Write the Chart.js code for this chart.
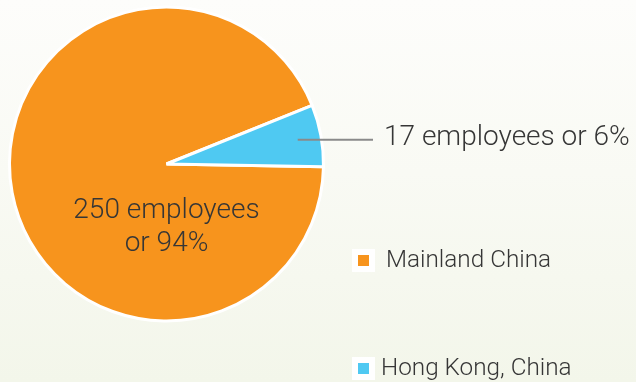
<!DOCTYPE html>
<html>
<head>
<meta charset="utf-8">
<script src="https://cdn.jsdelivr.net/npm/chart.js@4.4.0/dist/chart.umd.min.js"></script>
<style>
  html, body { margin: 0; padding: 0; }
  body {
    width: 636px; height: 382px; overflow: hidden;
    background: linear-gradient(to bottom, #fdfdfb 0%, #f9faf4 45%, #f3f6ea 100%);
  }
  canvas { display: block; }
</style>
</head>
<body>
<canvas id="staffChart" width="636" height="382"></canvas>
<script>
/* Data */
const regions = ['Mainland China', 'Hong Kong, China'];
const headcount = [250, 17];
const sliceLabels = [['250 employees', 'or 94%'], ['17 employees or 6%']];
const sliceColors = ['#f7941d', '#4fc9f2'];

const textFont = '300 28px Roboto, "DejaVu Sans", sans-serif';
const textColor = '#363636';

// Labels inside / beside the slices, plus the leader line for the small slice
const sliceText = {
    id: 'sliceText',
    afterDatasetsDraw(chart) {
        const c = chart.ctx;
        const arcs = chart.getDatasetMeta(0).data;
        c.save();
        c.font = textFont;
        c.fillStyle = textColor;

        // big slice: centred text below the middle
        const big = arcs[0];
        c.textAlign = 'center';
        c.textBaseline = 'alphabetic';
        c.fillText(sliceLabels[0][0], big.x, big.y + 54);
        c.fillText(sliceLabels[0][1], big.x, big.y + 87);

        // small slice: line out from the middle of the slice
        const small = arcs[1];
        const mid = (small.startAngle + small.endAngle) / 2;
        const r = small.outerRadius * 0.85;
        const sx = small.x + Math.cos(mid) * r;
        const sy = small.y + Math.sin(mid) * r;
        c.strokeStyle = '#8a8a8a';
        c.lineWidth = 2;
        c.beginPath();
        c.moveTo(sx, sy);
        c.lineTo(373, sy);
        c.stroke();
        c.textAlign = 'left';
        c.fillText(sliceLabels[1][0], 384, sy + 5);
        c.restore();
    }
};

// Legend with widely spaced rows
const sideLegend = {
    id: 'sideLegend',
    afterDraw(chart) {
        const c = chart.ctx;
        const rows = [{ x: 352, y: 249 }, { x: 352, y: 357 }];
        c.save();
        c.font = '300 24.3px Roboto, "DejaVu Sans", sans-serif';
        c.textBaseline = 'middle';
        c.textAlign = 'left';
        regions.forEach((name, i) => {
            const p = rows[i];
            c.fillStyle = '#ffffff';
            c.fillRect(p.x, p.y, 23, 23);
            c.fillStyle = sliceColors[i];
            c.fillRect(p.x + 6, p.y + 6, 11, 11);
            c.fillStyle = textColor;
            c.fillText(name, p.x + (i === 0 ? 34 : 29), p.y + 12);
        });
        c.restore();
    }
};

const ctx = document.getElementById('staffChart');

var staffChart = new Chart(ctx, {
    type: 'pie',
    data: {
        labels: regions,
        datasets: [{
            data: headcount,
            backgroundColor: sliceColors,
            borderColor: '#ffffff',
            borderWidth: 3
        }]
    },
    options: {
        responsive: false,
        animation: false,
        rotation: 91,
        radius: 157,
        layout: {
            padding: { left: 9.5, right: 312.5, top: 7, bottom: 61 }
        },
        plugins: {
            legend: { display: false },
            tooltip: { enabled: false }
        }
    },
    plugins: [sliceText, sideLegend]
});
</script>
</body>
</html>
